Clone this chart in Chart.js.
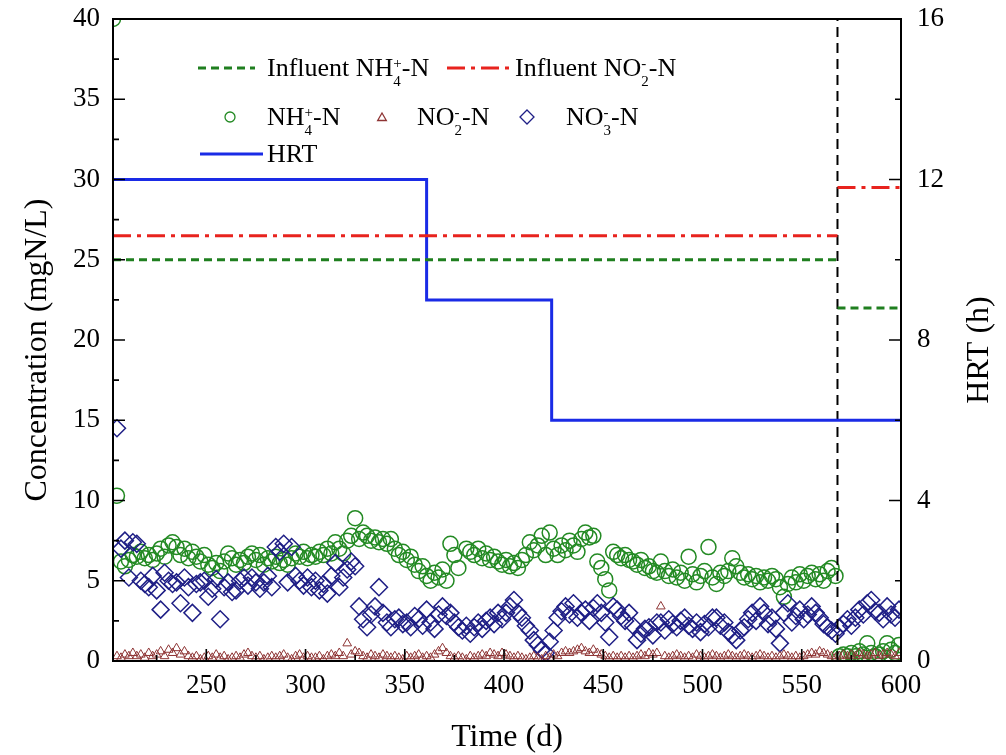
<!DOCTYPE html>
<html>
<head>
<meta charset="utf-8">
<script src="https://cdn.jsdelivr.net/npm/chart.js@4.4.1/dist/chart.umd.min.js"></script>
<style>
  body { margin: 0; background: #fff; }
  #wrap { width: 1006px; height: 755px; }
</style>
</head>
<body>
<div id="wrap"><canvas id="chart" width="1006" height="755"></canvas></div>
<script>
// sampling days (d)
const days = [
  203, 205, 207, 209, 211, 213, 215, 217, 219, 221,
  223, 225, 227, 229, 231, 233, 235, 237, 239, 241,
  243, 245, 247, 249, 251, 253, 255, 257, 259, 261,
  263, 265, 267, 269, 271, 273, 275, 277, 279, 281,
  283, 285, 287, 289, 291, 293, 295, 297, 299, 301,
  303, 305, 307, 309, 311, 313, 315, 317, 319, 321,
  323, 325, 327, 329, 331, 333, 335, 337, 339, 341,
  343, 345, 347, 349, 351, 353, 355, 357, 359, 361,
  363, 365, 367, 369, 371, 373, 375, 377, 379, 381,
  383, 385, 387, 389, 391, 393, 395, 397, 399, 401,
  403, 405, 407, 409, 411, 413, 415, 417, 419, 421,
  423, 425, 427, 429, 431, 433, 435, 437, 439, 441,
  443, 445, 447, 449, 451, 453, 455, 457, 459, 461,
  463, 465, 467, 469, 471, 473, 475, 477, 479, 481,
  483, 485, 487, 489, 491, 493, 495, 497, 499, 501,
  503, 505, 507, 509, 511, 513, 515, 517, 519, 521,
  523, 525, 527, 529, 531, 533, 535, 537, 539, 541,
  543, 545, 547, 549, 551, 553, 555, 557, 559, 561,
  563, 565, 567, 569, 571, 573, 575, 577, 579, 581,
  583, 585, 587, 589, 591, 593, 595, 597, 599
];

// effluent NH4+-N (mgN/L)
const nh4 = [
  40, 10.3, 6.2, 5.9, 6.3, 6.6, 6.5, 6.8, 6.4, 6.6,
  6.3, 6.7, 7.0, 6.5, 7.2, 7.4, 7.1, 6.6, 7.0, 6.4,
  6.8, 6.5, 6.2, 6.6, 6.0, 5.8, 6.1, 5.6, 6.2, 6.7,
  6.4, 6.0, 6.3, 6.1, 6.5, 6.7, 6.3, 6.6, 6.0, 6.4,
  6.2, 6.5, 6.1, 6.3, 6.0, 6.4, 6.7, 6.5, 6.8, 6.4,
  6.6, 6.5, 6.8, 6.6, 7.0, 6.7, 7.4, 7.0, 6.7, 7.5,
  7.8, 8.9, 7.6, 8.0, 7.8, 7.5, 7.7, 7.4, 7.6, 7.3,
  7.6, 7.0, 6.6, 6.8, 6.3, 6.5, 6.0, 5.6, 5.9, 5.3,
  5.0, 5.5, 5.2, 5.7, 5.0, 7.3, 6.6, 5.8, null, 7.0,
  6.8, 6.6, 7.0, 6.4, 6.7, 6.3, 6.5, 6.2, 6.0, 6.3,
  5.9, 6.1, 5.8, 6.3, 6.6, 7.4, 6.9, 7.2, 7.8, 6.6,
  8.0, 7.0, 6.6, 7.2, 6.9, 7.5, 7.2, 6.8, 7.6, 8.0,
  7.7, 7.8, 6.2, 5.8, 5.1, 4.4, 6.8, 6.6, 6.4, 6.6,
  6.3, 6.2, 6.0, 6.3, 5.8, 5.9, 5.6, 5.5, 6.2, 5.6,
  5.3, 5.7, 5.2, 5.5, 5.0, 6.5, 5.4, 4.9, 5.3, 5.6,
  7.1, 5.2, 4.8, 5.5, 5.3, 5.6, 6.4, 5.9, 5.5, 5.2,
  5.4, 5.1, 5.3, 4.9, 5.2, 5.0, 5.3, 5.1, 4.6, 4.0,
  4.8, 5.2, 4.9, 5.4, 5.0, 5.3, 5.5, 5.1, 5.4, 5.0,
  5.6, 5.8, 5.3, 0.3, 0.4, 0.3, 0.5, 0.3, 0.6, 0.4,
  1.1, 0.5, 0.3, 0.4, 0.6, 1.1, 0.7, 0.5, 1.0
];

// effluent NO2--N (mgN/L)
const no2 = [
  null, 0.3, 0.2, 0.4, 0.3, 0.5, 0.3, 0.4, 0.2, 0.5,
  0.3, 0.4, 0.6, 0.3, 0.7, 0.5, 0.8, 0.4, 0.6, 0.3,
  0.2, 0.3, 0.1, 0.2, 0.3, 0.2, 0.4, 0.2, 0.3, 0.1,
  0.2, 0.3, 0.2, 0.4, 0.5, 0.3, 0.2, 0.3, 0.1, 0.2,
  0.3, 0.2, 0.3, 0.4, 0.2, 0.1, 0.3, 0.4, 0.2, 0.3,
  0.2, 0.2, 0.3, 0.1, 0.3, 0.4, 0.3, 0.5, 0.3, 1.1,
  0.4, 0.6, 0.5, 0.3, 0.2, 0.4, 0.3, 0.2, 0.4, 0.3,
  0.2, 0.3, 0.2, 0.1, 0.3, 0.2, 0.3, 0.4, 0.2, 0.3,
  0.2, 0.4, 0.6, 0.8, 0.5, 0.3, 0.2, 0.3, 0.2, 0.1,
  0.3, 0.2, 0.3, 0.4, 0.3, 0.5, 0.4, 0.3, 0.5, 0.4,
  0.3, 0.2, 0.3, 0.2, 0.1, 0.2, 0.3, 0.2, 0.1, 0.3,
  0.2, 0.4, 0.3, 0.5, 0.6, 0.5, 0.6, 0.7, 0.8, 0.6,
  0.5, 0.7, 0.5, 0.4, 0.3, 0.2, 0.3, 0.2, 0.3, 0.2,
  0.3, 0.2, 0.3, 0.4, 0.3, 0.5, 0.4, 0.5, 3.4, 0.3,
  0.2, 0.3, 0.4, 0.3, 0.2, 0.3, 0.2, 0.4, 0.3, 0.2,
  0.3, 0.4, 0.3, 0.2, 0.3, 0.4, 0.3, 0.2, 0.3, 0.4,
  0.3, 0.2, 0.3, 0.4, 0.3, 0.2, 0.3, 0.2, 0.3, 0.4,
  0.3, 0.2, 0.3, 0.2, 0.3, 0.4, 0.5, 0.4, 0.6, 0.5,
  0.4, 0.3, 0.2, 0.3, 0.4, 0.3, 0.4, 0.3, 0.5, 0.4,
  0.3, 0.4, 0.5, 0.3, 0.4, 0.5, 0.4, 0.3, 0.5
];

// effluent NO3--N (mgN/L)
const no3 = [
  null, 14.5, 7.0, 7.5, 5.2, 7.4, 7.3, 5.0, 4.8, 4.6,
  5.3, 4.4, 3.2, 5.5, 5.0, 4.8, 4.9, 3.6, 5.2, 4.6,
  3.0, 4.8, 4.9, 5.0, 4.0, 4.5, 5.1, 2.6, 4.6, 4.9,
  4.3, 4.4, 5.0, 5.2, 4.7, 5.2, 4.9, 4.5, 4.9, 5.3,
  4.6, 7.1, 6.8, 7.3, 4.9, 7.1, 5.3, 5.0, 4.7, 5.2,
  4.6, 5.0, 4.4, 4.8, 4.2, 5.3, 6.1, 4.6, 5.2, 5.7,
  6.2, 5.9, 3.4, 2.6, 2.1, 2.9, 3.4, 4.6, 3.0, 2.4,
  2.1, 2.6, 2.7, 2.3, 2.4, 2.1, 2.8, 2.6, 2.2, 3.2,
  2.4, 2.0, 2.9, 3.4, 2.8, 3.0, 2.4, 2.1, 1.9, 2.2,
  1.7, 2.1, 2.4, 2.0, 2.5, 2.7, 2.3, 3.0, 2.6, 3.0,
  3.4, 3.8, 3.0, 2.7, 2.2, 1.9, 1.3, 1.0, 0.7, 0.5,
  1.2, 1.9, 2.7, 3.1, 3.4, 2.9, 3.6, 2.7, 3.0, 3.2,
  2.5, 3.3, 3.6, 3.0, 2.4, 1.5, 3.4, 3.2, 2.8, 2.5,
  3.0, 2.2, 1.3, 1.7, 2.0, 2.1, 1.6, 2.4, 2.4, 1.9,
  2.6, 2.3, 2.1, 2.5, 2.7, 2.2, 2.0, 2.4, 1.8, 2.3,
  2.1, 2.7, 2.7, 2.2, 2.4, 1.8, 1.6, 1.3, 1.9, 2.1,
  2.6, 3.0, 2.5, 3.4, 3.0, 2.3, 2.7, 2.0, 1.1, 3.0,
  3.6, 2.4, 2.8, 3.2, 2.6, 2.9, 3.4, 3.0, 2.7, 2.3,
  2.1, 1.9, 1.7, 2.1, 2.3, 2.6, 2.2, 2.7, 3.2, 2.9,
  3.6, 3.8, 3.1, 3.0, 2.6, 3.4, 2.9, 2.7, 3.2
];

// HRT (h), right axis
const hrtDays = [203, 361, 424, 600];
const hrtVals = [12, 9, 6, 6];

// influent concentrations (mgN/L)
const inflNH4Days = [203, 568, 568, 568, 600];
const inflNH4Vals = [25, 25, null, 22, 22];
const inflNO2Days = [203, 568, 568, 568, 600];
const inflNO2Vals = [26.5, 26.5, null, 29.5, 29.5];

const switchDay = 568;

const xTicks = [250, 300, 350, 400, 450, 500, 550, 600];
const leftTicks = [0, 5, 10, 15, 20, 25, 30, 35, 40];
const rightTicks = [0, 4, 8, 12, 16];

const FONT = '"Liberation Serif", "Times New Roman", serif';
const GREEN = '#238a23';
const GREEN_LINE = '#1f7f1f';
const RED = '#e8231e';
const BLUE = '#1a2be6';
const NAVY = '#1f1f86';
const BROWN = '#8e3434';

function pts(xs, ys) {
  return xs.map((x, i) => ({ x: x, y: ys[i] }));
}

// frame + inward tick marks
const frameTicks = {
  id: 'frameTicks',
  afterDatasetsDraw(chart) {
    const { ctx, chartArea: a, scales } = chart;
    ctx.save();
    ctx.strokeStyle = '#000';
    ctx.lineWidth = 2;
    ctx.strokeRect(a.left, a.top, a.right - a.left, a.bottom - a.top);
    ctx.lineWidth = 1.6;
    ctx.beginPath();
    xTicks.forEach(v => {
      const px = scales.x.getPixelForValue(v);
      ctx.moveTo(px, a.bottom); ctx.lineTo(px, a.bottom - 12);
      const m = scales.x.getPixelForValue(v - 25);
      if (m > a.left) { ctx.moveTo(m, a.bottom); ctx.lineTo(m, a.bottom - 6); }
    });
    leftTicks.forEach((v, i) => {
      const py = scales.y.getPixelForValue(v);
      ctx.moveTo(a.left, py); ctx.lineTo(a.left + 12, py);
      if (i > 0) {
        const m = scales.y.getPixelForValue((v + leftTicks[i - 1]) / 2);
        ctx.moveTo(a.left, m); ctx.lineTo(a.left + 6, m);
      }
    });
    rightTicks.forEach((v, i) => {
      const py = scales.y2.getPixelForValue(v);
      ctx.moveTo(a.right, py); ctx.lineTo(a.right - 12, py);
      if (i > 0) {
        const m = scales.y2.getPixelForValue((v + rightTicks[i - 1]) / 2);
        ctx.moveTo(a.right, m); ctx.lineTo(a.right - 6, m);
      }
    });
    ctx.stroke();
    ctx.restore();
  }
};

// text with stacked sub/superscript
function richText(ctx, x, y, parts) {
  ctx.textBaseline = 'alphabetic';
  ctx.textAlign = 'left';
  parts.forEach(p => {
    if (typeof p === 'string') {
      ctx.font = '26px ' + FONT;
      ctx.fillText(p, x, y);
      x += ctx.measureText(p).width;
    } else {
      ctx.font = '15px ' + FONT;
      const w = Math.max(ctx.measureText(p.sub).width, ctx.measureText(p.sup).width);
      ctx.fillText(p.sub, x, y + 10);
      ctx.fillText(p.sup, x, y - 8);
      x += w;
    }
  });
}

function marker(ctx, style, x, y, r, color) {
  ctx.save();
  ctx.strokeStyle = color;
  ctx.lineWidth = 1.3;
  ctx.beginPath();
  if (style === 'circle') {
    ctx.arc(x, y, r, 0, Math.PI * 2);
  } else if (style === 'triangle') {
    ctx.moveTo(x, y - r);
    ctx.lineTo(x + r * 0.866, y + r * 0.5);
    ctx.lineTo(x - r * 0.866, y + r * 0.5);
    ctx.closePath();
  } else {
    ctx.moveTo(x, y - r); ctx.lineTo(x + r, y); ctx.lineTo(x, y + r); ctx.lineTo(x - r, y);
    ctx.closePath();
  }
  ctx.stroke();
  ctx.restore();
}

function sample(ctx, x1, x2, y, color, dash) {
  ctx.save();
  ctx.strokeStyle = color;
  ctx.lineWidth = 3;
  ctx.setLineDash(dash);
  ctx.beginPath();
  ctx.moveTo(x1, y); ctx.lineTo(x2, y);
  ctx.stroke();
  ctx.restore();
}

const legendAndTitles = {
  id: 'legendAndTitles',
  afterDraw(chart) {
    const { ctx, chartArea: a } = chart;
    const L = a.left, T = a.top;
    ctx.save();
    ctx.fillStyle = '#000';
    // row 1
    sample(ctx, L + 85, L + 142, T + 49, GREEN_LINE, [8, 5]);
    richText(ctx, L + 154, T + 57, ['Influent NH', { sub: '4', sup: '+' }, '-N']);
    sample(ctx, L + 334, L + 397, T + 49, RED, [18, 6, 4, 6]);
    richText(ctx, L + 402, T + 57, ['Influent NO', { sub: '2', sup: '-' }, '-N']);
    // row 2
    marker(ctx, 'circle', L + 117, T + 98, 5, GREEN);
    richText(ctx, L + 154, T + 106, ['NH', { sub: '4', sup: '+' }, '-N']);
    marker(ctx, 'triangle', L + 269, T + 99, 5, BROWN);
    richText(ctx, L + 304, T + 106, ['NO', { sub: '2', sup: '-' }, '-N']);
    marker(ctx, 'diamond', L + 414, T + 98, 7, NAVY);
    richText(ctx, L + 453, T + 106, ['NO', { sub: '3', sup: '-' }, '-N']);
    // row 3
    sample(ctx, L + 87, L + 150, T + 135, BLUE, []);
    richText(ctx, L + 154, T + 143, ['HRT']);
    // y titles, both reading bottom to top
    ctx.font = '32px ' + FONT;
    ctx.textAlign = 'center';
    ctx.textBaseline = 'middle';
    const cy = (a.top + a.bottom) / 2 + 10;
    ctx.save();
    ctx.translate(38, cy);
    ctx.rotate(-Math.PI / 2);
    ctx.fillText('Concentration (mgN/L)', 0, 0);
    ctx.restore();
    ctx.save();
    ctx.translate(980, cy);
    ctx.rotate(-Math.PI / 2);
    ctx.fillText('HRT (h)', 0, 0);
    ctx.restore();
    ctx.restore();
  }
};

const tickFont = { family: FONT, size: 27 };

function noPad(s) {
  s.paddingTop = 0; s.paddingBottom = 0; s.paddingLeft = 0; s.paddingRight = 0;
}

const chart = new Chart(document.getElementById('chart'), {
  type: 'scatter',
  data: {
    datasets: [
      {
        label: 'Influent NH4+-N',
        data: pts(inflNH4Days, inflNH4Vals),
        showLine: true, spanGaps: false, pointRadius: 0,
        borderColor: GREEN_LINE, borderWidth: 3, borderDash: [8, 5],
        yAxisID: 'y'
      },
      {
        label: 'Influent NO2--N',
        data: pts(inflNO2Days, inflNO2Vals),
        showLine: true, spanGaps: false, pointRadius: 0,
        borderColor: RED, borderWidth: 3, borderDash: [18, 6, 4, 6],
        yAxisID: 'y'
      },
      {
        label: 'HRT',
        data: pts(hrtDays, hrtVals),
        showLine: true, stepped: 'before', pointRadius: 0,
        borderColor: BLUE, borderWidth: 3,
        yAxisID: 'y2'
      },
      {
        label: 'switch',
        data: pts([switchDay, switchDay], [0, 40]),
        showLine: true, pointRadius: 0,
        borderColor: '#000', borderWidth: 2, borderDash: [10, 6],
        yAxisID: 'y'
      },
      {
        label: 'NO2--N',
        data: pts(days, no2),
        pointStyle: 'triangle', pointRadius: 5, pointBorderWidth: 1,
        pointBorderColor: BROWN, pointBackgroundColor: 'rgba(0,0,0,0)',
        clip: 0, yAxisID: 'y'
      },
      {
        label: 'NO3--N',
        data: pts(days, no3),
        pointStyle: 'rectRot', pointRadius: 8.5, pointBorderWidth: 1.5,
        pointBorderColor: NAVY, pointBackgroundColor: 'rgba(0,0,0,0)',
        clip: 0, yAxisID: 'y'
      },
      {
        label: 'NH4+-N',
        data: pts(days, nh4),
        pointStyle: 'circle', pointRadius: 7.5, pointBorderWidth: 1.5,
        pointBorderColor: GREEN, pointBackgroundColor: 'rgba(0,0,0,0)',
        clip: 0, yAxisID: 'y'
      }
    ]
  },
  options: {
    responsive: false,
    animation: false,
    devicePixelRatio: 1,
    layout: { padding: { top: 19, left: 0, right: 0, bottom: 0 } },
    plugins: { legend: { display: false }, tooltip: { enabled: false } },
    scales: {
      x: {
        type: 'linear', position: 'bottom', min: 203, max: 600,
        grid: { display: false, drawTicks: false }, border: { display: false },
        afterBuildTicks: s => { s.ticks = xTicks.map(v => ({ value: v })); },
        afterFit: s => { s.height = 94; noPad(s); },
        ticks: { font: tickFont, color: '#000', padding: 9, maxRotation: 0 },
        title: { display: true, text: 'Time (d)', color: '#000', font: { family: FONT, size: 32 }, padding: { top: 0, bottom: -2 } }
      },
      y: {
        type: 'linear', position: 'left', min: 0, max: 40,
        grid: { display: false, drawTicks: false }, border: { display: false },
        afterBuildTicks: s => { s.ticks = leftTicks.map(v => ({ value: v })); },
        afterFit: s => { s.width = 113; noPad(s); },
        ticks: { font: tickFont, color: '#000', padding: 13 }
      },
      y2: {
        type: 'linear', position: 'right', min: 0, max: 16,
        grid: { display: false, drawTicks: false }, border: { display: false },
        afterBuildTicks: s => { s.ticks = rightTicks.map(v => ({ value: v })); },
        afterFit: s => { s.width = 105; noPad(s); },
        ticks: { font: tickFont, color: '#000', padding: 16 }
      }
    }
  },
  plugins: [frameTicks, legendAndTitles]
});
</script>
</body>
</html>
